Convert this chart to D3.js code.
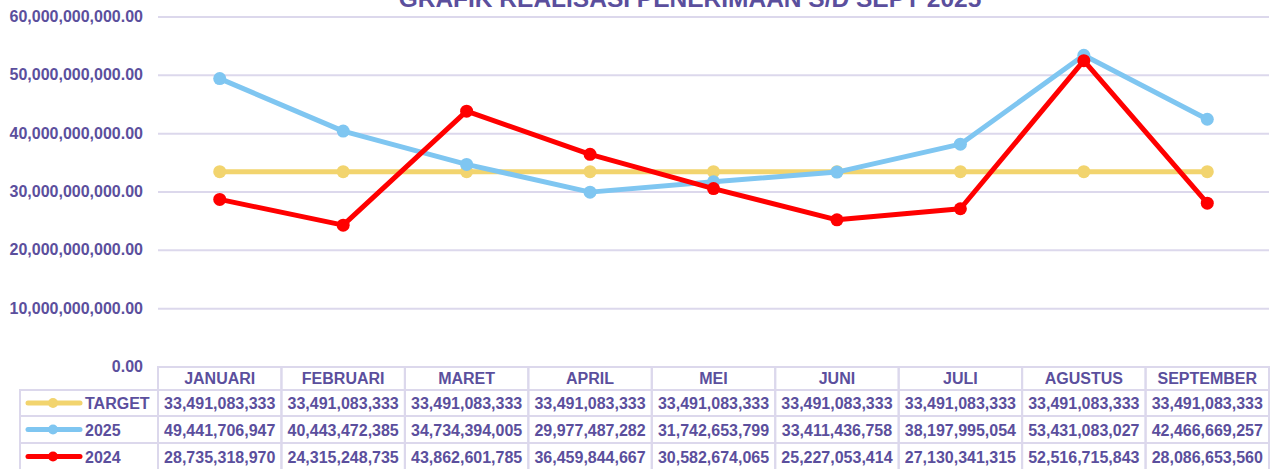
<!DOCTYPE html>
<html>
<head>
<meta charset="utf-8">
<script src="https://cdn.jsdelivr.net/npm/d3@7"></script>
<style>
  body { margin: 0; background: #fff; }
  svg { display: block; font-family: "Liberation Sans", Arial, sans-serif; }
</style>
</head>
<body>
<svg width="1271" height="469"></svg>
<script>
const months = ['JANUARI', 'FEBRUARI', 'MARET', 'APRIL', 'MEI', 'JUNI', 'JULI', 'AGUSTUS', 'SEPTEMBER'];
const target = [33491083333, 33491083333, 33491083333, 33491083333, 33491083333, 33491083333, 33491083333, 33491083333, 33491083333];
const real2025 = [49441706947, 40443472385, 34734394005, 29977487282, 31742653799, 33411436758, 38197995054, 53431083027, 42466669257];
const real2024 = [28735318970, 24315248735, 43862601785, 36459844667, 30582674065, 25227053414, 27130341315, 52516715843, 28086653560];
const yTicks = [0, 10e9, 20e9, 30e9, 40e9, 50e9, 60e9];
const title = 'GRAFIK REALISASI PENERIMAAN S/D SEPT 2025';

const series = [
    { name: 'TARGET', values: target, color: '#f2d46e' },
    { name: '2025', values: real2025, color: '#7fc6f1' },
    { name: '2024', values: real2024, color: '#ff0000' }
];

const textColor = '#5b4f9d';
const gridColor = '#dcd8ec';

const svg = d3.select('svg');
const margin = { left: 158, right: 2, top: 17 };
const width = 1271;
const plotBottom = 367;

const x = d3.scaleBand()
    .domain(months)
    .range([margin.left, width - margin.right])
    .padding(0);

const y = d3.scaleLinear()
    .domain([0, 60e9])
    .range([plotBottom, margin.top]);

// gridlines
svg.append('g')
    .selectAll('line')
    .data(yTicks.filter(d => d > 0))
    .join('line')
    .attr('x1', margin.left)
    .attr('x2', width - margin.right)
    .attr('y1', d => y(d))
    .attr('y2', d => y(d))
    .attr('stroke', gridColor)
    .attr('stroke-width', 2);

// y axis labels
const fmtAxis = d3.format(',.2f');
svg.append('g')
    .selectAll('text')
    .data(yTicks)
    .join('text')
    .attr('x', 143)
    .attr('y', d => y(d) + 5)
    .attr('text-anchor', 'end')
    .attr('font-size', '16px')
    .attr('font-weight', 'bold')
    .attr('fill', textColor)
    .text(d => fmtAxis(d));

// title (cut by the top edge, as in the original)
svg.append('text')
    .attr('x', 690)
    .attr('y', 7)
    .attr('text-anchor', 'middle')
    .attr('font-size', '24.5px')
    .attr('font-weight', 'bold')
    .attr('fill', textColor)
    .text(title);

// lines
const cx = m => x(m) + x.bandwidth() / 2;
const line = d3.line()
    .x((d, i) => cx(months[i]))
    .y(d => y(d));

const lines = svg.append('g');
series.forEach(s => {
    const g = lines.append('g');
    g.append('path')
        .attr('d', line(s.values))
        .attr('fill', 'none')
        .attr('stroke', s.color)
        .attr('stroke-width', 5)
        .attr('stroke-linejoin', 'round');
    g.selectAll('circle')
        .data(s.values)
        .join('circle')
        .attr('cx', (d, i) => cx(months[i]))
        .attr('cy', d => y(d))
        .attr('r', 6.5)
        .attr('fill', s.color);
});

// data table
const rowTops = [367, 390, 416, 443, 470];
const legendLeft = 20;
const table = svg.append('g');
const fmtVal = d3.format(',.0f');

months.forEach(m => {
    table.append('rect')
        .attr('x', x(m))
        .attr('y', rowTops[0])
        .attr('width', x.bandwidth())
        .attr('height', rowTops[1] - rowTops[0])
        .attr('fill', 'none')
        .attr('stroke', gridColor)
        .attr('stroke-width', 2);
    table.append('text')
        .attr('x', cx(m))
        .attr('y', rowTops[0] + 17)
        .attr('text-anchor', 'middle')
        .attr('font-size', '16px')
        .attr('font-weight', 'bold')
        .attr('fill', textColor)
        .text(m);
});

series.forEach((s, r) => {
    const top = rowTops[r + 1];
    const h = rowTops[r + 2] - top;
    table.append('rect')
        .attr('x', legendLeft)
        .attr('y', top)
        .attr('width', margin.left - legendLeft)
        .attr('height', h)
        .attr('fill', 'none')
        .attr('stroke', gridColor)
        .attr('stroke-width', 2);
    table.append('line')
        .attr('x1', 28).attr('x2', 80)
        .attr('y1', top + h / 2).attr('y2', top + h / 2)
        .attr('stroke', s.color)
        .attr('stroke-width', 5)
        .attr('stroke-linecap', 'round');
    table.append('circle')
        .attr('cx', 53)
        .attr('cy', top + h / 2)
        .attr('r', 5)
        .attr('fill', s.color);
    table.append('text')
        .attr('x', 85)
        .attr('y', top + h / 2 + 6)
        .attr('font-size', '16px')
        .attr('font-weight', 'bold')
        .attr('fill', textColor)
        .text(s.name);

    months.forEach((m, i) => {
        table.append('rect')
            .attr('x', x(m))
            .attr('y', top)
            .attr('width', x.bandwidth())
            .attr('height', h)
            .attr('fill', 'none')
            .attr('stroke', gridColor)
            .attr('stroke-width', 2);
        table.append('text')
            .attr('x', cx(m))
            .attr('y', top + h / 2 + 6)
            .attr('text-anchor', 'middle')
            .attr('font-size', '16px')
            .attr('font-weight', 'bold')
            .attr('fill', textColor)
            .text(fmtVal(s.values[i]));
    });
});
</script>
</body>
</html>
